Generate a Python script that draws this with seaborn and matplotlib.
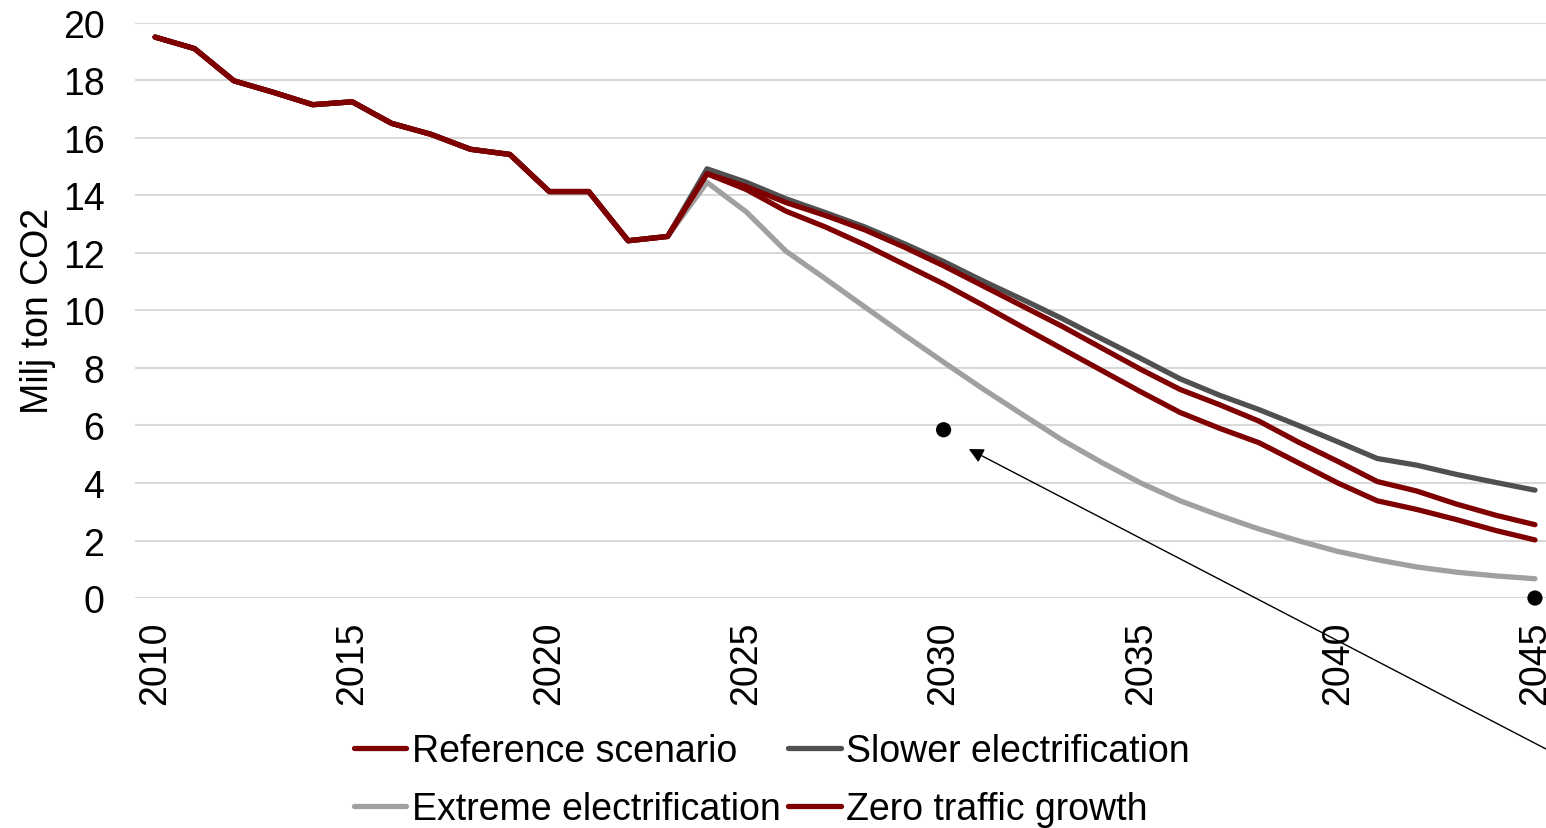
import numpy as np
import pandas as pd
import matplotlib
matplotlib.use("Agg")
import matplotlib.pyplot as plt
import seaborn as sns

# Historical emissions (shared by all scenarios)
hist_years = list(range(2010, 2024))
hist_values = [19.5, 19.1, 17.98, 17.58, 17.15, 17.25, 16.5, 16.12, 15.6, 15.42,
               14.13, 14.13, 12.42, 12.57]

# Scenario projections 2024-2045
proj_years = list(range(2024, 2046))
reference = [14.75, 14.3, 13.75, 13.3, 12.8, 12.2, 11.55, 10.85, 10.15, 9.45, 8.7,
             7.95, 7.25, 6.72, 6.15, 5.42, 4.75, 4.05, 3.72, 3.27, 2.88, 2.55]
slower = [14.92, 14.45, 13.88, 13.4, 12.9, 12.32, 11.7, 11.02, 10.38, 9.72, 9.02,
          8.33, 7.62, 7.05, 6.55, 6.0, 5.43, 4.85, 4.62, 4.3, 4.02, 3.75]
extreme = [14.45, 13.42, 12.06, 11.1, 10.12, 9.15, 8.2, 7.27, 6.38, 5.5, 4.72,
           4.0, 3.38, 2.87, 2.4, 1.99, 1.62, 1.33, 1.08, 0.9, 0.77, 0.67]
zero_growth = [14.75, 14.2, 13.45, 12.9, 12.28, 11.6, 10.92, 10.18, 9.42, 8.67, 7.92,
               7.17, 6.45, 5.9, 5.4, 4.7, 4.0, 3.38, 3.08, 2.73, 2.35, 2.02]

# Target points
target_years = [2030, 2045]
target_values = [5.85, 0.0]

colors = {"Reference scenario": "#7F0000",
          "Slower electrification": "#505050",
          "Extreme electrification": "#A0A0A0",
          "Zero traffic growth": "#7F0000"}

series = {"Reference scenario": reference,
          "Slower electrification": slower,
          "Extreme electrification": extreme,
          "Zero traffic growth": zero_growth}

frames = []
for name, vals in series.items():
    frames.append(pd.DataFrame({"year": hist_years + proj_years,
                                "value": hist_values + vals,
                                "scenario": name}))
df = pd.concat(frames, ignore_index=True)
targets = pd.DataFrame({"year": target_years, "value": target_values})

sns.set_theme(style="white")
plt.rcParams["font.family"] = ["Liberation Sans", "DejaVu Sans"]

fig = plt.figure(figsize=(15.46, 8.29), dpi=100)
ax = fig.add_axes([0.0873, 0.2774, 0.9127, 0.6940])

draw_order = ["Extreme electrification", "Slower electrification",
              "Reference scenario", "Zero traffic growth"]
handles = {}
for name in draw_order:
    sub = df[df["scenario"] == name]
    sns.lineplot(data=sub, x="year", y="value", ax=ax, color=colors[name],
                 linewidth=3.8, solid_capstyle="round", solid_joinstyle="round",
                 label=name, legend=False)
    handles[name] = ax.lines[-1]

sns.scatterplot(data=targets, x="year", y="value", ax=ax, color="black",
                s=120, edgecolor="none", zorder=5, clip_on=False, legend=False)

ax.annotate("", xy=(2030.64, 5.18), xycoords="data",
            xytext=(1.0, 1 - 750 / 829), textcoords="figure fraction",
            arrowprops=dict(arrowstyle="-|>", color="black", lw=1.0,
                            mutation_scale=22, shrinkA=0, shrinkB=0),
            annotation_clip=False)

ax.set_xlim(2009.49, 2045.28)
ax.set_ylim(0, 20)
ax.set_yticks(range(0, 21, 2))
ax.set_xticks(range(2010, 2046, 5))
ax.set_xticklabels([str(y) for y in range(2010, 2046, 5)], rotation=90)
ax.tick_params(axis="y", length=0, pad=22, labelsize=27, colors="black")
ax.tick_params(axis="x", length=0, pad=16, labelsize=27, colors="black")
ax.yaxis.grid(True, color="#D9D9D9", linewidth=1.5)
ax.xaxis.grid(False)
ax.set_axisbelow(True)
for sp in ax.spines.values():
    sp.set_visible(False)

ax.set_xlabel("")
ax.set_ylabel("Milj ton CO2", fontsize=27, color="black")
ax.yaxis.set_label_coords(-0.056, 0.5)

legend_order = ["Reference scenario", "Extreme electrification",
                "Slower electrification", "Zero traffic growth"]
fig.legend([handles[n] for n in legend_order], legend_order, ncol=2,
           loc="center", bbox_to_anchor=(772 / 1546, 1 - 781 / 829),
           frameon=False, fontsize=27, handlelength=1.4, handletextpad=0.15,
           columnspacing=0.2, labelspacing=0.6, borderpad=0,
           labelcolor="black")

fig.savefig("out.png", dpi=100)
